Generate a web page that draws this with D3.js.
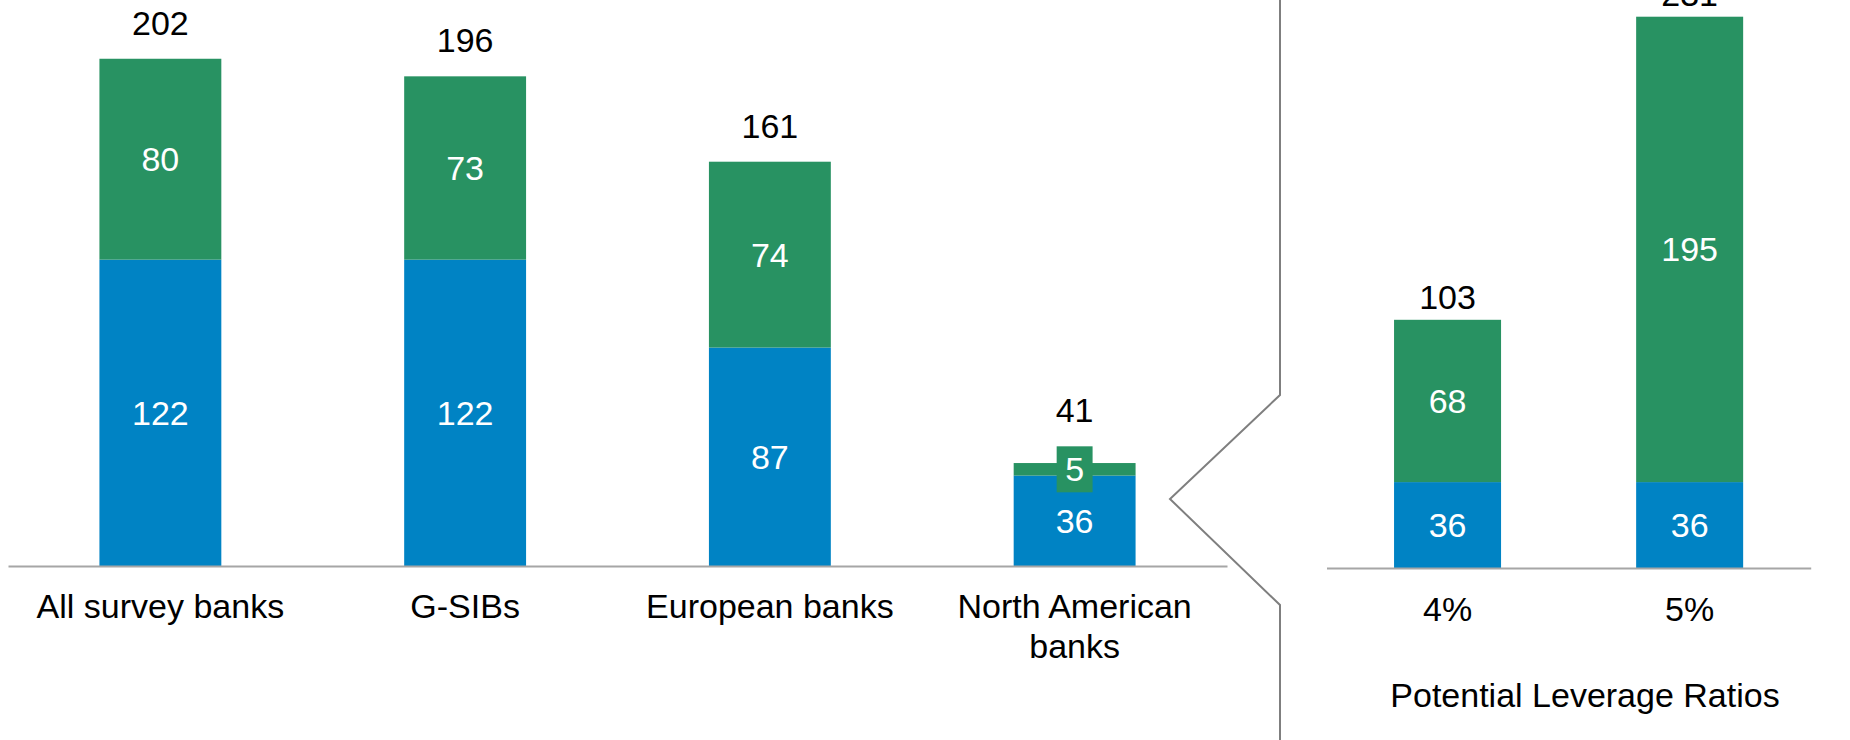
<!DOCTYPE html>
<html>
<head>
<meta charset="utf-8">
<script src="https://cdn.jsdelivr.net/npm/d3@7/dist/d3.min.js"></script>
<style>
  html, body { margin: 0; padding: 0; background: #fff; }
  svg { display: block; }
  text { font-family: "Liberation Sans", Arial, Helvetica, sans-serif; }
</style>
</head>
<body>
<svg id="chart" width="1850" height="740"></svg>
<script>
// ---- data ----
const categoriesLeft = ["All survey banks", "G-SIBs", "European banks", "North American banks"];
const blueLeft  = [122, 122, 87, 36];
const greenLeft = [80, 73, 74, 5];
const totalLeft = [202, 196, 161, 41];

const categoriesRight = ["4%", "5%"];
const blueRight  = [36, 36];
const greenRight = [68, 195];
const totalRight = [103, 231];

const rightTitle = "Potential Leverage Ratios";

// ---- style ----
const BLUE = "#0083C4";
const GREEN = "#289262";
const AXIS = "#A6A6A6";
const DIVIDER = "#7F7F7F";
const FONT = 34;

const svg = d3.select("#chart");

function wrap(textSel, width) {
  textSel.each(function () {
    const text = d3.select(this);
    const words = text.text().split(/\s+/);
    const x = text.attr("x") || 0;
    const y = text.attr("y");
    text.text(null);
    let line = [];
    let lineNo = 0;
    let tspan = text.append("tspan").attr("x", x).attr("dy", 0);
    words.forEach(w => {
      line.push(w);
      tspan.text(line.join(" "));
      if (tspan.node().getComputedTextLength() > width && line.length > 1) {
        line.pop();
        tspan.text(line.join(" "));
        line = [w];
        lineNo++;
        tspan = text.append("tspan").attr("x", x).attr("dy", 40).text(w);
      }
    });
  });
}

function panel(cfg) {
  const { cats, blue, green, totals, xRange, padIn, padOut, yDomainMax, yRange, labelGap, tickBaseline } = cfg;
  const rows = cats.map((c, i) => ({ cat: c, blue: blue[i], green: green[i], total: totals[i] }));
  const x = d3.scaleBand().domain(cats).range(xRange).paddingInner(padIn).paddingOuter(padOut);
  const y = d3.scaleLinear().domain([0, yDomainMax]).range(yRange);
  const stack = d3.stack().keys(["blue", "green"])(rows);
  const colors = { blue: BLUE, green: GREEN };

  const g = svg.append("g");

  // bars
  stack.forEach(layer => {
    g.selectAll(null).data(layer).join("rect")
      .attr("x", d => x(d.data.cat))
      .attr("width", x.bandwidth())
      .attr("y", d => y(d[1]))
      .attr("height", d => y(d[0]) - y(d[1]))
      .attr("fill", colors[layer.key]);
  });

  // axis
  const axis = g.append("g")
    .attr("transform", `translate(0,${y(0)})`)
    .call(d3.axisBottom(x).tickSize(0).tickSizeOuter(0));
  axis.select(".domain").attr("stroke", AXIS).attr("stroke-width", 2);
  axis.selectAll(".tick text")
    .attr("y", tickBaseline - y(0))
    .attr("dy", 0)
    .attr("fill", "#000")
    .style("font-size", FONT + "px")
    .style("font-family", '"Liberation Sans", Arial, sans-serif')
    .call(wrap, x.step());

  // segment labels
  const boxTops = {};
  stack.forEach(layer => {
    layer.forEach(d => {
      const cx = x(d.data.cat) + x.bandwidth() / 2;
      const cy = (y(d[0]) + y(d[1])) / 2;
      const segH = y(d[0]) - y(d[1]);
      const lg = g.append("g");
      const t = lg.append("text")
        .attr("x", cx).attr("y", cy)
        .attr("text-anchor", "middle")
        .attr("dominant-baseline", "central")
        .attr("fill", "#fff")
        .style("font-size", FONT + "px")
        .text(d[1] - d[0]);
      if (segH < 30) {
        const bb = t.node().getBBox();
        const bw = bb.width + 17, bh = bb.height + 8;
        lg.insert("rect", "text")
          .attr("x", cx - bw / 2).attr("y", cy - bh / 2)
          .attr("width", bw).attr("height", bh)
          .attr("fill", colors[layer.key]);
        boxTops[d.data.cat] = cy - bh / 2;
      }
    });
  });

  // total labels
  g.selectAll(null).data(rows).join("text")
    .attr("x", d => x(d.cat) + x.bandwidth() / 2)
    .attr("y", d => {
      const top = y(d.blue + d.green);
      const b = boxTops[d.cat] !== undefined ? Math.min(top, boxTops[d.cat]) : top;
      return b - labelGap;
    })
    .attr("text-anchor", "middle")
    .attr("fill", "#000")
    .style("font-size", FONT + "px")
    .text(d => d.total);

  return { x, y };
}

panel({
  cats: categoriesLeft, blue: blueLeft, green: greenLeft, totals: totalLeft,
  xRange: [8, 1227], padIn: 0.6, padOut: 0.3,
  yDomainMax: 225, yRange: [566, 1],
  labelGap: 24, tickBaseline: 618
});

const right = panel({
  cats: categoriesRight, blue: blueRight, green: greenRight, totals: totalRight,
  xRange: [1326.5, 1810.7], padIn: 0.558, padOut: 0.279,
  yDomainMax: 238, yRange: [568, 0],
  labelGap: 11, tickBaseline: 621
});

svg.append("text")
  .attr("x", 1585).attr("y", 707)
  .attr("text-anchor", "middle")
  .attr("fill", "#000")
  .style("font-size", FONT + "px")
  .text(rightTitle);

// divider bracket
svg.append("path")
  .attr("d", d3.line()([[1280, 0], [1280, 395], [1170, 499], [1280, 605], [1280, 740]]))
  .attr("fill", "none")
  .attr("stroke", DIVIDER)
  .attr("stroke-width", 2);
</script>
</body>
</html>
